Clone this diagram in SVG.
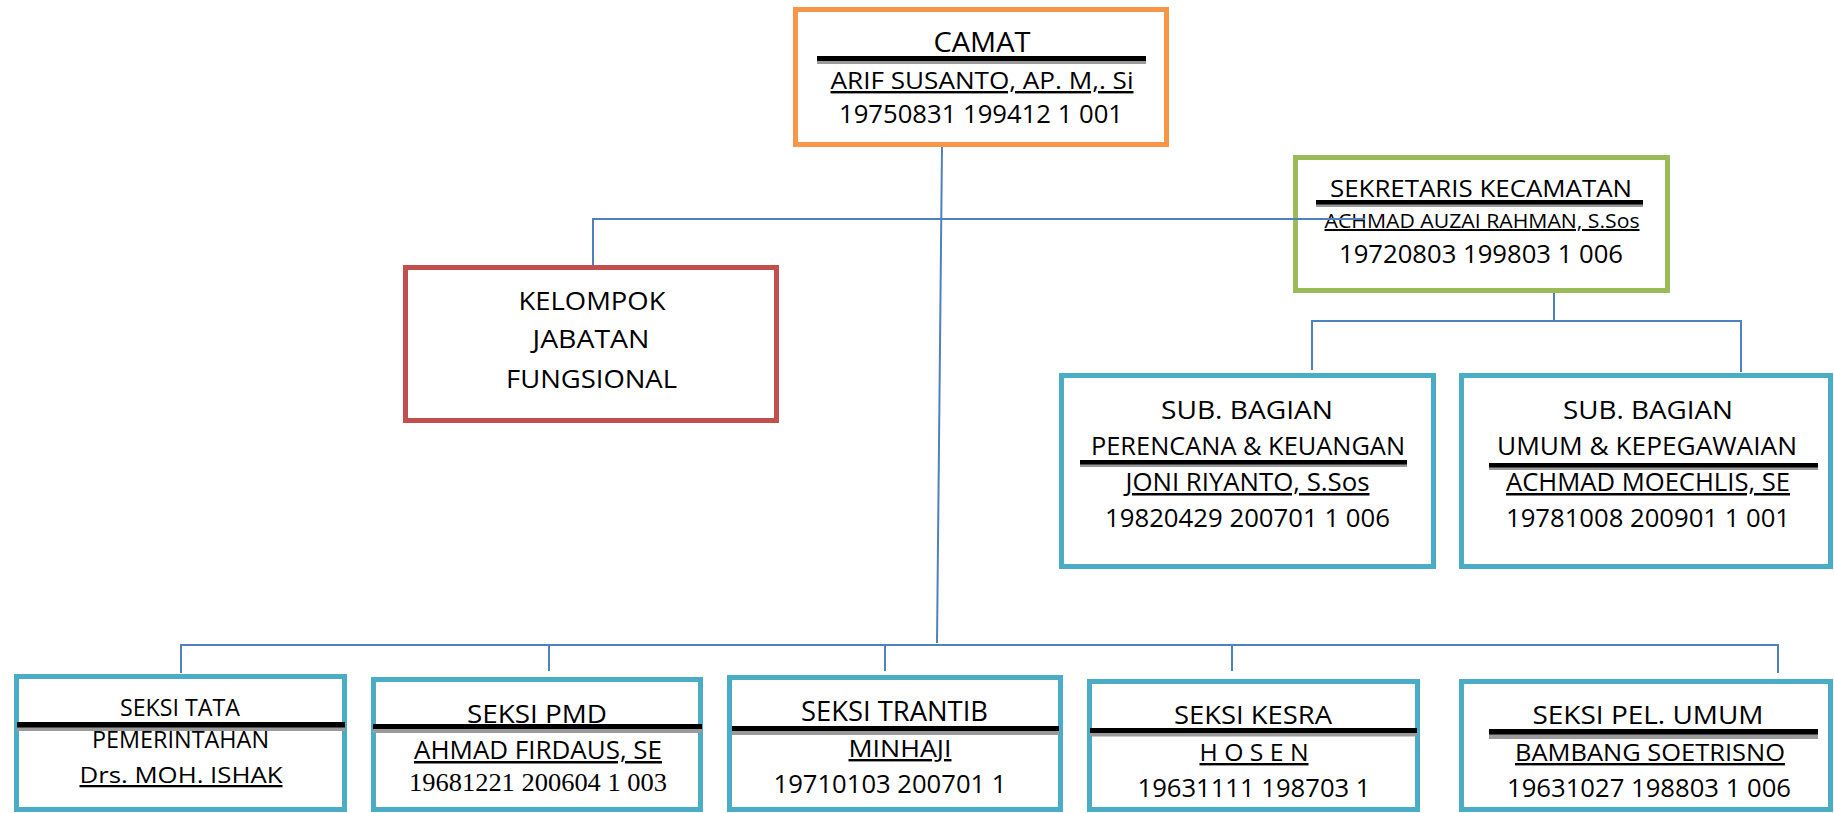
<svg xmlns="http://www.w3.org/2000/svg" width="1834" height="813" viewBox="0 0 1834 813">
<style>
.box{fill:#fff;stroke-width:5}
.o{stroke:#F79646}.g{stroke:#9BBB59}.r{stroke:#C0504D}.t{stroke:#4BACC6}
text{font-family:"Open Sans","Noto Sans","Liberation Sans",sans-serif;fill:#000;text-anchor:middle}
.serif{font-family:"Liberation Serif","Times New Roman",serif}
.u{text-decoration:underline}
.rb{fill:#000}.rg{fill:#9a9a9a}
.cn{stroke:#4F81BD;stroke-width:2;fill:none}
</style>
<rect width="1834" height="813" fill="#fff"/>

<g id="camat">
<rect class="box o" x="795.5" y="9.5" width="371" height="135"/>
<text x="982" y="52" font-size="28" textLength="97" lengthAdjust="spacingAndGlyphs">CAMAT</text>
<rect class="rg" x="817" y="60" width="329" height="4"/>
<rect class="rb" x="817" y="56" width="329" height="5"/>
<text class="u" x="982" y="89" font-size="24" textLength="303" lengthAdjust="spacingAndGlyphs">ARIF SUSANTO, AP. M,. Si</text>
<text x="981" y="123" font-size="25" textLength="284" lengthAdjust="spacingAndGlyphs">19750831 199412 1 001</text>
</g>

<g id="sekretaris">
<rect class="box g" x="1295.5" y="157.5" width="372" height="133"/>
<text x="1481" y="197" font-size="24" textLength="302" lengthAdjust="spacingAndGlyphs">SEKRETARIS KECAMATAN</text>
<rect class="rg" x="1316" y="203" width="327" height="4"/>
<rect class="rb" x="1316" y="200" width="327" height="4.5"/>
<text class="u" x="1482" y="228" font-size="20" textLength="315" lengthAdjust="spacingAndGlyphs">ACHMAD AUZAI RAHMAN, S.Sos</text>
<text x="1481" y="263" font-size="25" textLength="284" lengthAdjust="spacingAndGlyphs">19720803 199803 1 006</text>
</g>

<g id="kelompok">
<rect class="box r" x="405.5" y="267.5" width="371" height="153"/>
<text x="592" y="310" font-size="26" textLength="147" lengthAdjust="spacingAndGlyphs">KELOMPOK</text>
<text x="591" y="348" font-size="26" textLength="117" lengthAdjust="spacingAndGlyphs">JABATAN</text>
<text x="591.5" y="388" font-size="26" textLength="171" lengthAdjust="spacingAndGlyphs">FUNGSIONAL</text>
</g>

<g id="subbag-perencanaan">
<rect class="box t" x="1061.5" y="375.5" width="372" height="191"/>
<text x="1247" y="419" font-size="26" textLength="172" lengthAdjust="spacingAndGlyphs">SUB. BAGIAN</text>
<text x="1248" y="455" font-size="26" textLength="314" lengthAdjust="spacingAndGlyphs">PERENCANA &amp; KEUANGAN</text>
<rect class="rg" x="1080" y="463" width="327" height="4"/>
<rect class="rb" x="1080" y="460" width="327" height="4.5"/>
<text class="u" x="1247.5" y="491" font-size="25" textLength="244" lengthAdjust="spacingAndGlyphs">JONI RIYANTO, S.Sos</text>
<text x="1247.5" y="527" font-size="25" textLength="285" lengthAdjust="spacingAndGlyphs">19820429 200701 1 006</text>
</g>

<g id="subbag-umum">
<rect class="box t" x="1461.5" y="375.5" width="369" height="191"/>
<text x="1648" y="419" font-size="26" textLength="170" lengthAdjust="spacingAndGlyphs">SUB. BAGIAN</text>
<text x="1647" y="455" font-size="26" textLength="300" lengthAdjust="spacingAndGlyphs">UMUM &amp; KEPEGAWAIAN</text>
<rect class="rg" x="1489" y="466" width="329" height="4"/>
<rect class="rb" x="1489" y="463" width="329" height="4.5"/>
<text class="u" x="1648" y="491" font-size="25" textLength="284" lengthAdjust="spacingAndGlyphs">ACHMAD MOECHLIS, SE</text>
<text x="1648" y="527" font-size="25" textLength="284" lengthAdjust="spacingAndGlyphs">19781008 200901 1 001</text>
</g>

<g id="seksi-tapem">
<rect class="box t" x="16.5" y="676.5" width="328" height="133"/>
<text x="180" y="716" font-size="23" textLength="120" lengthAdjust="spacingAndGlyphs">SEKSI TATA</text>
<rect class="rg" x="17" y="726" width="328" height="5"/>
<rect class="rb" x="17" y="722" width="328" height="5.5"/>
<text x="180.5" y="748" font-size="23" textLength="177" lengthAdjust="spacingAndGlyphs">PEMERINTAHAN</text>
<text class="u" x="181" y="783" font-size="22.5" textLength="203" lengthAdjust="spacingAndGlyphs">Drs. MOH. ISHAK</text>
</g>

<g id="seksi-pmd">
<rect class="box t" x="373.5" y="679.5" width="327" height="130"/>
<text x="537" y="723" font-size="26" textLength="140" lengthAdjust="spacingAndGlyphs">SEKSI PMD</text>
<rect class="rg" x="373" y="728" width="329" height="5"/>
<rect class="rb" x="373" y="724" width="329" height="5"/>
<text class="u" x="538" y="759" font-size="25" textLength="248" lengthAdjust="spacingAndGlyphs">AHMAD FIRDAUS, SE</text>
<text class="serif" x="538" y="791" font-size="26" textLength="258" lengthAdjust="spacingAndGlyphs">19681221 200604 1 003</text>
</g>

<g id="seksi-trantib">
<rect class="box t" x="729.5" y="677.5" width="331" height="132"/>
<text x="894.5" y="721" font-size="28" textLength="187" lengthAdjust="spacingAndGlyphs">SEKSI TRANTIB</text>
<rect class="rg" x="732" y="730" width="327" height="5"/>
<rect class="rb" x="732" y="726" width="327" height="5"/>
<text class="u" x="900" y="757" font-size="24" textLength="103" lengthAdjust="spacingAndGlyphs">MINHAJI</text>
<text x="890" y="793" font-size="25" textLength="233" lengthAdjust="spacingAndGlyphs">19710103 200701 1</text>
</g>

<g id="seksi-kesra">
<rect class="box t" x="1089.5" y="681.5" width="328" height="128"/>
<text x="1253" y="724" font-size="26" textLength="158" lengthAdjust="spacingAndGlyphs">SEKSI KESRA</text>
<rect class="rg" x="1090" y="732" width="327" height="4.5"/>
<rect class="rb" x="1090" y="728" width="327" height="5"/>
<text class="u" x="1254" y="761" font-size="24" textLength="109" lengthAdjust="spacingAndGlyphs">H O S E N</text>
<text x="1254" y="797" font-size="26" textLength="233" lengthAdjust="spacingAndGlyphs">19631111 198703 1</text>
</g>

<g id="seksi-pelum">
<rect class="box t" x="1461.5" y="681.5" width="369" height="128"/>
<text x="1648" y="724" font-size="25" textLength="231" lengthAdjust="spacingAndGlyphs">SEKSI PEL. UMUM</text>
<rect class="rg" x="1489" y="733" width="329" height="6"/>
<rect class="rb" x="1489" y="729" width="329" height="5.5"/>
<text class="u" x="1650" y="761" font-size="24" textLength="270" lengthAdjust="spacingAndGlyphs">BAMBANG SOETRISNO</text>
<text x="1649" y="797" font-size="25" textLength="284" lengthAdjust="spacingAndGlyphs">19631027 198803 1 006</text>
</g>

<g id="connectors">
<path class="cn" d="M942 147 L937 643"/>
<path class="cn" d="M593 265 V219 H1365"/>
<path class="cn" d="M1554 293 V321"/>
<path class="cn" d="M1312 370 V321 H1741 V372"/>
<path class="cn" d="M181 673 V645 H1778 V673"/>
<path class="cn" d="M549 645 V671"/>
<path class="cn" d="M885 645 V671"/>
<path class="cn" d="M1232 645 V671"/>
</g>
</svg>
